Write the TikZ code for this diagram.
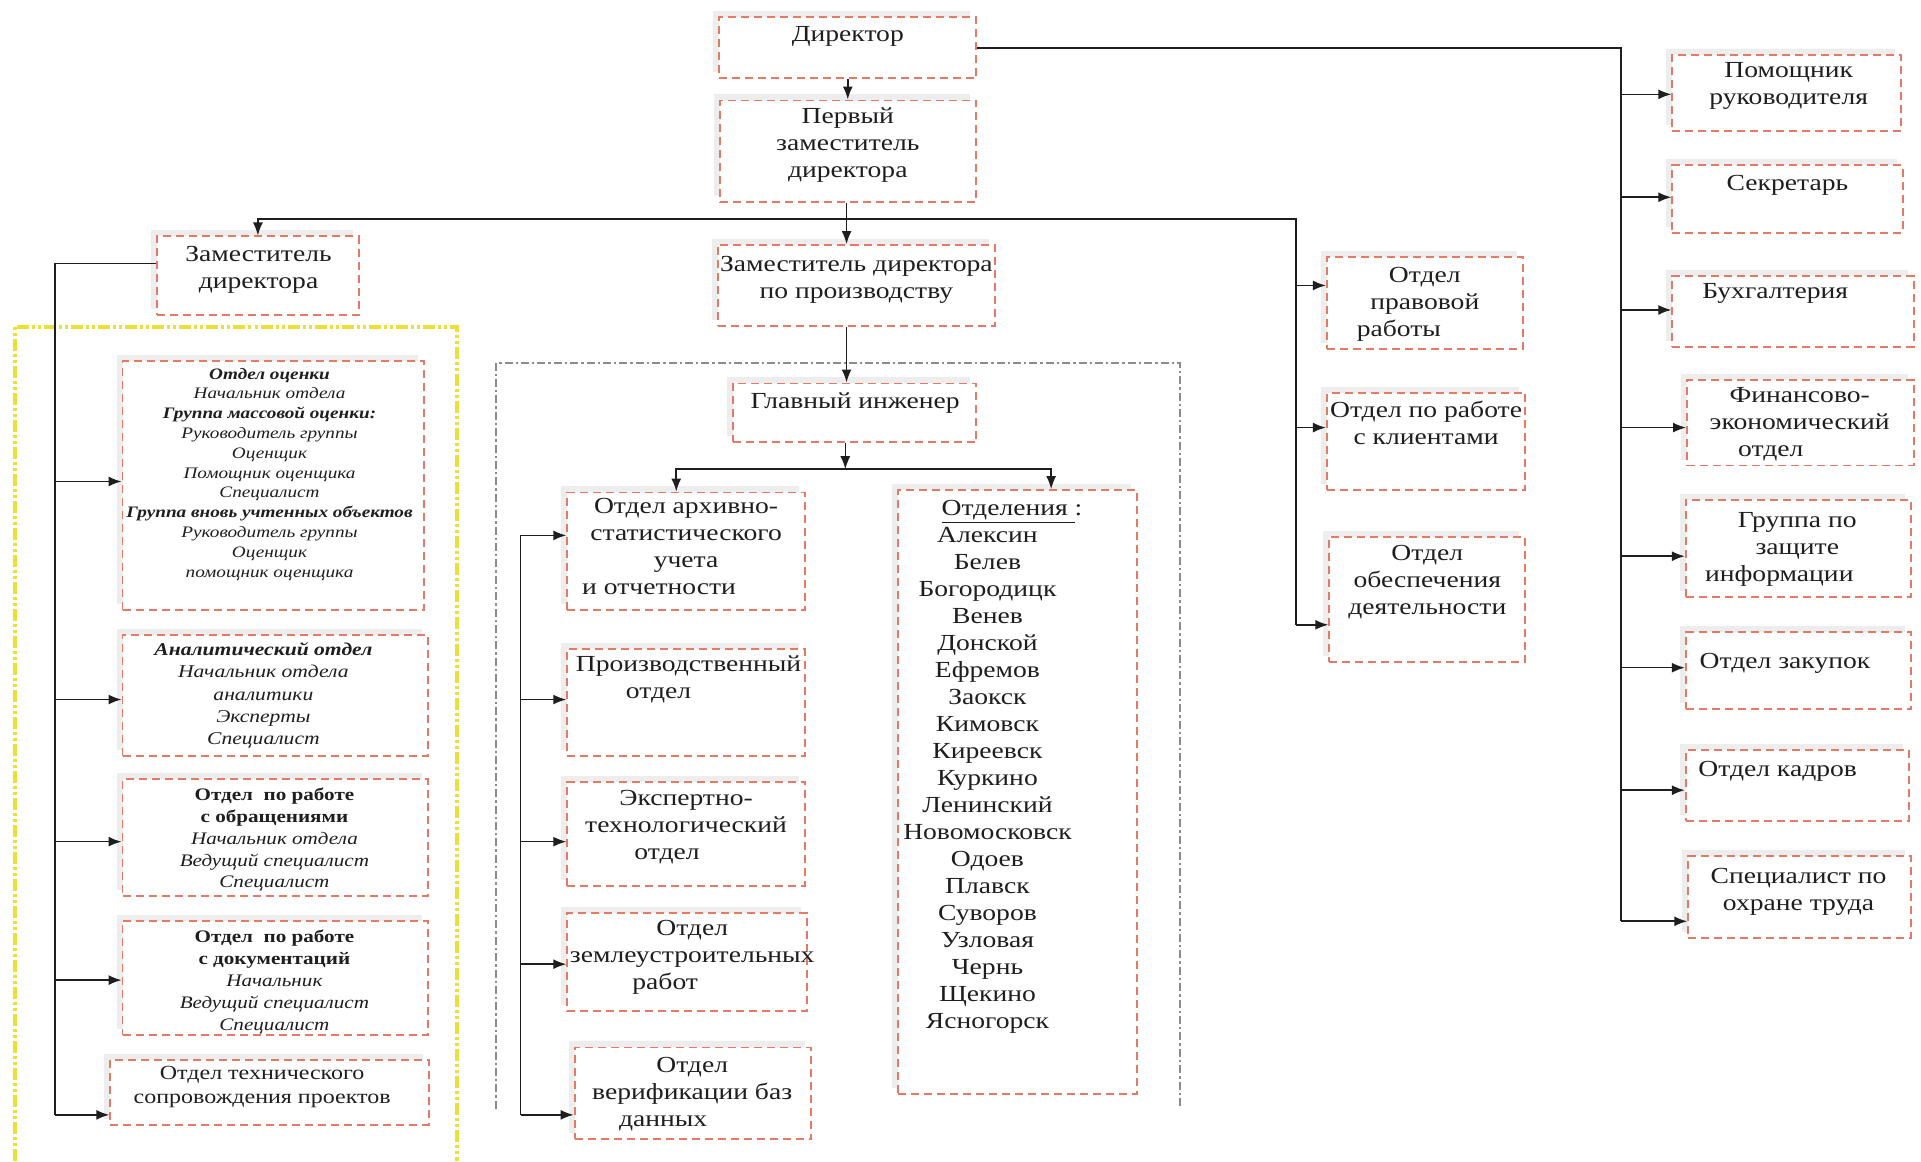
\documentclass[tikz,border=0pt]{standalone}
\usepackage{fontspec}
\setmainfont{Liberation Serif}[FakeStretch=1.2]
\usetikzlibrary{arrows.meta,fit,calc,shadows}
\definecolor{bx}{RGB}{226,122,102}
\definecolor{yel}{RGB}{236,224,56}
\definecolor{gry}{RGB}{140,140,140}
\definecolor{ink}{RGB}{30,30,30}
\tikzset{
  box/.style={draw=bx, fill=white, dash pattern=on 4pt off 2.5pt, line width=0.95pt, rectangle, inner sep=0pt,
    drop shadow={fill=black!7, opacity=1, shadow xshift=-3pt, shadow yshift=3pt}},
  conn/.style={line width=0.8pt, draw=ink},
  arr/.style={conn, -{Latex[length=6.5pt,width=5pt]}},
  T/.style={font=\fontsize{11.5}{13.5}\selectfont, text=ink, align=center, inner sep=0pt, anchor=north},
  S/.style={text=ink, align=center, inner sep=0pt, anchor=north},
}
\begin{document}
\begin{tikzpicture}[x=0.6125pt,y=-0.6125pt]
\useasboundingbox (0,0) rectangle (1568,948);
\fill[white] (0,0) rectangle (1568,948);

% frames
\draw[yel, line width=2pt, dash pattern=on 6pt off 1.5pt on 1.5pt off 1.5pt on 1.5pt off 1.5pt] (12,948) -- (12,267) -- (373,267) -- (373,948);
\draw[gry, line width=1.1pt, dash pattern=on 4pt off 1.5pt on 1.2pt off 1.5pt] (405,905) -- (405,296) -- (963,296) -- (963,905);

% boxes
\node[box, fit={(587,14) (797,64)}] (dir) {};
\node[box, fit={(588,82) (797,165)}] (fdep) {};
\node[box, fit={(128,193) (293,257)}] (zam) {};
\node[box, fit={(586,200) (812,266)}] (prod) {};
\node[box, fit={(598,313) (797,361)}] (chief) {};
\node[box, fit={(463,402) (657,498)}] (arch) {};
\node[box, fit={(463,530) (657,617)}] (proizv) {};
\node[box, fit={(463,638) (657,723)}] (expert) {};
\node[box, fit={(463,745) (659,825)}] (zeml) {};
\node[box, fit={(469,855) (662,930)}] (verif) {};
\node[box, fit={(733,400) (928,893)}] (otd) {};
\node[box, fit={(1083,210) (1243,285)}] (law) {};
\node[box, fit={(1083,321) (1245,400)}] (cli) {};
\node[box, fit={(1085,438) (1245,540)}] (obesp) {};
\node[box, fit={(1365,45) (1552,107)}] (pom) {};
\node[box, fit={(1365,135) (1553,190)}] (sec) {};
\node[box, fit={(1365,225) (1562,283)}] (buh) {};
\node[box, fit={(1377,310) (1562,380)}] (fin) {};
\node[box, fit={(1376,408) (1560,487)}] (zi) {};
\node[box, fit={(1376,516) (1560,579)}] (zak) {};
\node[box, fit={(1376,612) (1558,670)}] (kadr) {};
\node[box, fit={(1378,699) (1560,766)}] (ohr) {};
\node[box, fit={(100,295) (346,498)}] (ocen) {};
\node[box, fit={(100,518) (349,617)}] (anal) {};
\node[box, fit={(100,636) (349,731)}] (obr) {};
\node[box, fit={(100,752) (349,845)}] (doc) {};
\node[box, fit={(90,865) (350,918)}] (tech) {};

% texts
\node[T] (tDir) at (692,21) {Директор};
\node[T] (tFdep) at (692,88) {Первый\\заместитель\\директора};
\node[T] (tZam) at (211,201) {Заместитель\\директора};
\node[T] (tProd) at (699,209) {Заместитель директора\\по производству};
\node[T] (tChief) at (698,320) {Главный инженер};
\node[T] (tArch) at (560,406) {Отдел архивно-\\статистического\\учета\\и отчетности\hspace*{27pt}};
\node[T] (tProizv) at (562,535) {Производственный\\отдел\hspace*{30pt}};
\node[T] (tExp) at (560,645) {Экспертно-\\технологический\\отдел\hspace*{19pt}};
\node[T] (tZeml) at (565,751) {Отдел\\землеустроительных\\работ\hspace*{27pt}};
\node[T] (tVerif) at (565,863) {Отдел\\верификации баз\\данных\hspace*{29pt}};
\node[T] (tOtdH) at (826,408) {\underline{Отделения\ }:};
\node[T] (tOtdL) at (806,430) {Алексин\\Белев\\Богородицк\\Венев\\Донской\\Ефремов\\Заокск\\Кимовск\\Киреевск\\Куркино\\Ленинский\\Новомосковск\\Одоев\\Плавск\\Суворов\\Узловая\\Чернь\\Щекино\\Ясногорск};
\node[T] (tLaw) at (1163,218) {Отдел\\правовой\\работы\hspace*{26pt}};
\node[T] (tCli) at (1164,327) {Отдел по работе\\с клиентами};
\node[T] (tObesp) at (1165,445) {Отдел\\обеспечения\\деятельности};
\node[T] (tPom) at (1460,51) {Помощник\\руководителя};
\node[T] (tSec) at (1459,143) {Секретарь};
\node[T] (tBuh) at (1449,231) {Бухгалтерия};
\node[T] (tFin) at (1469,316) {Финансово-\\экономический\\отдел\hspace*{29pt}};
\node[T] (tZi) at (1467,418) {Группа по\\защите\\информации\hspace*{18pt}};
\node[T] (tZak) at (1457,533) {Отдел закупок};
\node[T] (tKadr) at (1451,621) {Отдел кадров};
\node[T] (tOhr) at (1468,708) {Специалист по\\охране труда};

\node[S, font=\fontsize{8}{9.9}\selectfont\itshape] (tOcen) at (220,300) {\textbf{Отдел оценки}\\Начальник отдела\\\textbf{Группа массовой оценки:}\\Руководитель группы\\Оценщик\\Помощник оценщика\\Специалист\\\textbf{Группа вновь учтенных объектов}\\Руководитель группы\\Оценщик\\помощник оценщика};
\node[S, font=\fontsize{9}{11.2}\selectfont\itshape] (tAnal) at (215,524) {\textbf{Аналитический отдел}\\Начальник отдела\\аналитики\\Эксперты\\Специалист};
\node[S, font=\fontsize{8.8}{10.9}\selectfont\itshape] (tObr) at (224,643) {\textbf{\upshape Отдел\ \ по работе}\\\textbf{\upshape с обращениями}\\Начальник отдела\\Ведущий специалист\\Специалист};
\node[S, font=\fontsize{8.8}{10.9}\selectfont\itshape] (tDoc) at (224,759) {\textbf{\upshape Отдел\ \ по работе}\\\textbf{\upshape с документаций}\hspace*{51pt}\\Начальник\hspace*{23pt}\\Ведущий специалист\\Специалист};
\node[S, font=\fontsize{10}{12.2}\selectfont] (tTech) at (214,870) {Отдел технического\\сопровождения проектов};

% connectors: top
\draw[arr] (dir.south) -- (dir.south |- fdep.north);
\coordinate (j0) at (691,179);
\draw[conn] (fdep.south -| j0) -- (j0);
\draw[arr] (j0) -- (j0 |- prod.north);
\draw[arr] (j0) -| (zam.north);
\coordinate (jr) at (1058,179);
\draw[conn] (j0) -- (jr) -- (1058,510);
\draw[arr] (jr |- 0,233) -- (law.west |- 0,233);
\draw[arr] (jr |- 0,349) -- (cli.west |- 0,349);
\draw[arr] (jr |- 0,510) -- (obesp.west |- 0,510);

% director right line
\coordinate (jd) at (1323,39);
\draw[conn] (dir.east) -- (jd |- dir.east) -- (1323,752);
\draw[arr] (jd |- 0,77) -- (pom.west |- 0,77);
\draw[arr] (jd |- 0,161) -- (sec.west |- 0,161);
\draw[arr] (jd |- 0,253) -- (buh.west |- 0,253);
\draw[arr] (jd |- 0,349) -- (fin.west |- 0,349);
\draw[arr] (jd |- 0,454) -- (zi.west |- 0,454);
\draw[arr] (jd |- 0,545) -- (zak.west |- 0,545);
\draw[arr] (jd |- 0,645) -- (kadr.west |- 0,645);
\draw[arr] (jd |- 0,752) -- (ohr.west |- 0,752);

% left column
\coordinate (jl) at (45,215);
\draw[conn] (zam.west |- jl) -- (jl) -- (45,910);
\draw[arr] (jl |- 0,393) -- (ocen.west |- 0,393);
\draw[arr] (jl |- 0,571) -- (anal.west |- 0,571);
\draw[arr] (jl |- 0,687) -- (obr.west |- 0,687);
\draw[arr] (jl |- 0,800) -- (doc.west |- 0,800);
\draw[arr] (jl |- 0,910) -- (tech.west |- 0,910);

% production branch
\draw[arr] (prod.south -| j0) -- (chief.north -| j0);
\coordinate (jm) at (690,383);
\draw[arr] (chief.south -| jm) -- (jm);
\draw[arr] (jm) -| (arch.north -| 552,0);
\draw[arr] (jm) -| (otd.north -| 858,0);
\coordinate (jm2) at (425,437);
\draw[conn] (jm2) -- (425,910);
\draw[arr] (jm2) -- (arch.west |- jm2);
\draw[arr] (jm2 |- 0,571) -- (proizv.west |- 0,571);
\draw[arr] (jm2 |- 0,687) -- (expert.west |- 0,687);
\draw[arr] (jm2 |- 0,787) -- (zeml.west |- 0,787);
\draw[arr] (jm2 |- 0,910) -- (verif.west |- 0,910);
\end{tikzpicture}
\end{document}
